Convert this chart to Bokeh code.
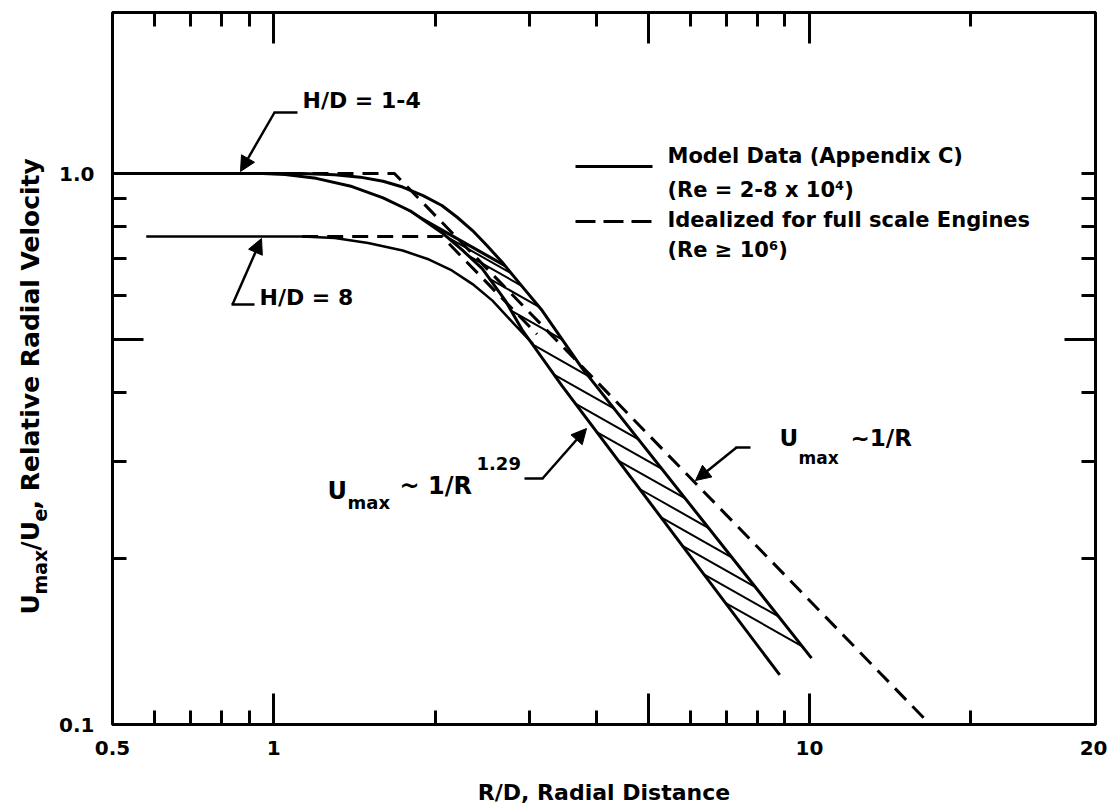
import numpy as np
from math import pi
from bokeh.plotting import figure
from bokeh.layouts import row
from bokeh.models import (Range1d, LogAxis, FixedTicker, CustomJSTickFormatter, Label,
                          Arrow, NormalHead)
from bokeh.core.properties import value
from bokeh.embed import file_html
from bokeh.resources import INLINE

# ---------------- data ----------------
x_start, x_end = 0.5, 34.2          # frame edges (right edge labelled "20" in the original)
y_start, y_end = 0.1, 1.96

x_label_ticks = [0.5, 1, 10, 34.2]
x_label_texts = ["0.5", "1", "10", "20"]
x_long_ticks = [1, 5, 10]
x_short_ticks = [0.6, 0.7, 0.8, 0.9, 2, 3, 4, 6, 7, 8, 9, 20]

y_label_ticks = [0.1, 1.0]
y_label_texts = ["0.1", "1.0"]
y_long_ticks = [0.5]
y_short_ticks = [0.2, 0.3, 0.4, 0.6, 0.7, 0.8, 0.9, 1.0]

# H/D = 1-4, model data band (upper and lower edge)
band_upper_x = [0.5, 1.13, 1.30, 1.45, 1.60, 1.74, 1.90, 2.06, 2.20, 2.35, 2.50, 2.67, 2.90, 3.17, 3.76, 10.09]
band_upper_y = [1.0, 1.0, 0.995, 0.985, 0.968, 0.945, 0.912, 0.875, 0.833, 0.788, 0.740, 0.690, 0.626, 0.564, 0.444, 0.132]
band_lower_x = [0.5, 0.954, 1.05, 1.20, 1.40, 1.60, 1.80, 2.06, 2.25, 2.45, 2.70, 2.91, 3.45, 8.80]
band_lower_y = [1.0, 1.0, 0.996, 0.980, 0.947, 0.903, 0.855, 0.781, 0.726, 0.672, 0.590, 0.520, 0.412, 0.123]

# H/D = 8, model data
hd8_x = [0.578, 1.13, 1.30, 1.50, 1.74, 1.95, 2.15, 2.35, 2.56, 2.80, 3.05]
hd8_y = [0.769, 0.769, 0.764, 0.748, 0.725, 0.698, 0.667, 0.630, 0.588, 0.535, 0.490]

# idealized (full scale engines)
ideal14_x = [0.5, 1.68, 16.8]
ideal14_y = [1.0, 1.0, 0.1]
ideal8_x = [1.13, 2.06, 3.1]
ideal8_y = [0.769, 0.769, 0.511]

# ---------------- styling / layout ----------------
FONT = "DejaVu Sans"
W, H = 1107, 810
TW = 56                                  # width of the strip holding the y title
FL, FR, FT, FB = 110, 1095, 12, 724      # frame edges in window pixels
LW = 3


def sx(cx):
    return cx - FL


def sy(cy):
    return FB - cy


p = figure(width=W - TW, height=H, x_axis_type="log", y_axis_type="log",
           x_range=Range1d(x_start, x_end), y_range=Range1d(y_start, y_end),
           output_backend="svg", toolbar_location=None,
           min_border_left=FL - TW, min_border_right=W - FR,
           min_border_top=FT, min_border_bottom=H - FB)
p.background_fill_color = "white"
p.border_fill_color = "white"
p.outline_line_color = "black"
p.outline_line_width = LW
p.xgrid.visible = False
p.ygrid.visible = False

fmt_x = CustomJSTickFormatter(args=dict(v=x_label_ticks, t=x_label_texts),
                              code="const i = v.indexOf(tick); return i >= 0 ? t[i] : '';")
fmt_y = CustomJSTickFormatter(args=dict(v=y_label_ticks, t=y_label_texts),
                              code="const i = v.indexOf(tick); return i >= 0 ? t[i] : '';")
fmt_none = CustomJSTickFormatter(code="return '';")


def style_axis(ax, long_len=31, short_len=14):
    ax.axis_line_width = LW
    ax.axis_line_color = "black"
    ax.major_tick_line_width = LW
    ax.minor_tick_line_width = LW
    ax.major_tick_in = long_len
    ax.major_tick_out = 0
    ax.minor_tick_in = short_len
    ax.minor_tick_out = 0
    ax.major_label_text_font = FONT
    ax.major_label_text_font_style = "bold"
    ax.major_label_text_font_size = "20px"
    ax.major_label_text_color = "black"


# bottom
xb = p.xaxis[0]
xb.ticker = FixedTicker(ticks=sorted(set(x_label_ticks + x_long_ticks)), minor_ticks=x_short_ticks)
xb.formatter = fmt_x
style_axis(xb)
xb.major_label_standoff = 16
xb.axis_label = "R/D, Radial Distance"
xb.axis_label_text_font = FONT
xb.axis_label_text_font_style = "bold"
xb.axis_label_text_font_size = "22px"
xb.axis_label_text_color = "black"
xb.axis_label_standoff = 22

# left
yl = p.yaxis[0]
yl.ticker = FixedTicker(ticks=sorted(set(y_label_ticks + y_long_ticks)), minor_ticks=y_short_ticks)
yl.formatter = fmt_y
style_axis(yl)
yl.major_label_standoff = 18
yl.major_label_orientation = "horizontal"

# top
xt = LogAxis(ticker=FixedTicker(ticks=x_long_ticks, minor_ticks=x_short_ticks), formatter=fmt_none)
style_axis(xt)
xt.major_label_standoff = 0
p.add_layout(xt, "above")

# right
yr = LogAxis(ticker=FixedTicker(ticks=y_long_ticks, minor_ticks=y_short_ticks), formatter=fmt_none)
style_axis(yr)
yr.major_label_standoff = 0
p.add_layout(yr, "right")

# ---------------- curves ----------------
p.line(band_upper_x, band_upper_y, line_color="black", line_width=LW, line_join="round")
p.line(band_lower_x, band_lower_y, line_color="black", line_width=LW, line_join="round")
p.line(hd8_x, hd8_y, line_color="black", line_width=2.5, line_join="round")
p.line(ideal14_x, ideal14_y, line_color="black", line_width=LW, line_dash="16 9")
p.line(ideal8_x, ideal8_y, line_color="black", line_width=LW, line_dash="16 9")

# hatching of the band, derived from the band edges
lux, luy = np.log10(band_upper_x), np.log10(band_upper_y)
llx, lly = np.log10(band_lower_x), np.log10(band_lower_y)
HATCH_SLOPE = -0.55
hxs, hys = [], []
for s in np.arange(np.log10(1.75), np.log10(8.75), 0.04):
    y0 = np.interp(s, llx, lly)
    t = np.linspace(s, s + 0.5, 4000)
    d = np.interp(t, lux, luy) - (y0 + HATCH_SLOPE * (t - s))
    idx = np.where(d <= 0)[0]
    if len(idx) == 0 or t[idx[0]] > lux[-1]:
        continue
    te = t[idx[0]]
    hxs.append([10 ** s, 10 ** te])
    hys.append([10 ** y0, 10 ** (y0 + HATCH_SLOPE * (te - s))])
p.multi_line(hxs, hys, line_color="black", line_width=2)


# ---------------- annotations ----------------
def txt(text, cx, cy, size=22, align="left", baseline="middle"):
    p.add_layout(Label(x=sx(cx), y=sy(cy), x_units="screen", y_units="screen", text=text,
                       text_font=FONT, text_font_style="bold", text_font_size=f"{size}px",
                       text_color="black", text_align=align, text_baseline=baseline))


def seg(x0, y0, x1, y1, head=False, dash="solid", width=2.5):
    p.add_layout(Arrow(x_start=sx(x0), y_start=sy(y0), x_end=sx(x1), y_end=sy(y1),
                       start_units="screen", end_units="screen", line_width=width,
                       line_color="black", line_dash=dash,
                       end=NormalHead(size=15, fill_color="black", line_color="black") if head else None))


# legend (drawn by hand, as in the original)
seg(573, 166, 650, 166, width=LW)
seg(573, 221, 650, 221, dash="20 8", width=LW)
txt("Model Data (Appendix C)", 665, 155, size=21)
txt("(Re = 2-8 x 10\u2074)", 665, 189, size=21)
txt("Idealized for full scale Engines", 665, 219, size=21)
txt("(Re \u2265 10\u2076)", 665, 249, size=21)

# H/D = 1-4
txt("H/D = 1-4", 300, 100)
seg(295, 112, 271, 112)
seg(272, 112, 238, 171, head=True)

# H/D = 8
txt("H/D = 8", 257, 297)
seg(252, 304, 229, 304)
seg(230, 304, 259, 238, head=True)

# U_max ~ 1/R^1.29
txt("U", 325, 490, size=24)
txt("max", 345, 502, size=18)
txt("~ 1/R", 397, 485, size=24)
txt("1.29", 474, 463, size=18)
seg(522, 478, 541, 478)
seg(540, 478, 584, 428, head=True)

# U_max ~ 1/R
txt("U", 777, 437, size=23)
txt("max", 796, 457, size=17)
txt("~1/R", 848, 437, size=23)
seg(748, 447, 733, 447)
seg(734, 447, 693, 480, head=True)

# ---------------- y-axis title strip ----------------
# its frame is aligned with the main frame (rows align frames), so map window pixels onto it
tp = figure(width=TW, height=H, x_range=Range1d(0, TW), y_range=Range1d(H - FB, H - FT),
            output_backend="svg", toolbar_location=None, title=None,
            x_axis_location=None, y_axis_location=None,
            min_border_left=0, min_border_right=0, min_border_top=0, min_border_bottom=0)
tp.grid.visible = False
tp.outline_line_color = None
tp.background_fill_color = "white"
tp.border_fill_color = "white"

title_parts = ["U", "max", "/U", "e", ", Relative Radial Velocity"]
title_sizes = ["25px", "19px", "25px", "19px", "25px"]
title_x = [30, 39, 30, 39, 30]            # baseline positions (window px)
title_y = [614, 594, 550, 521, 509]       # start positions (window px, from top)
tp.text(x=title_x, y=[H - v for v in title_y], text=title_parts, angle=pi / 2,
        text_font=value(FONT), text_font_style="bold", text_font_size=title_sizes,
        text_align="left", text_baseline="alphabetic", text_color="black")

layout = row(tp, p, spacing=0)
open("out.html", "w").write(file_html(layout, INLINE))
